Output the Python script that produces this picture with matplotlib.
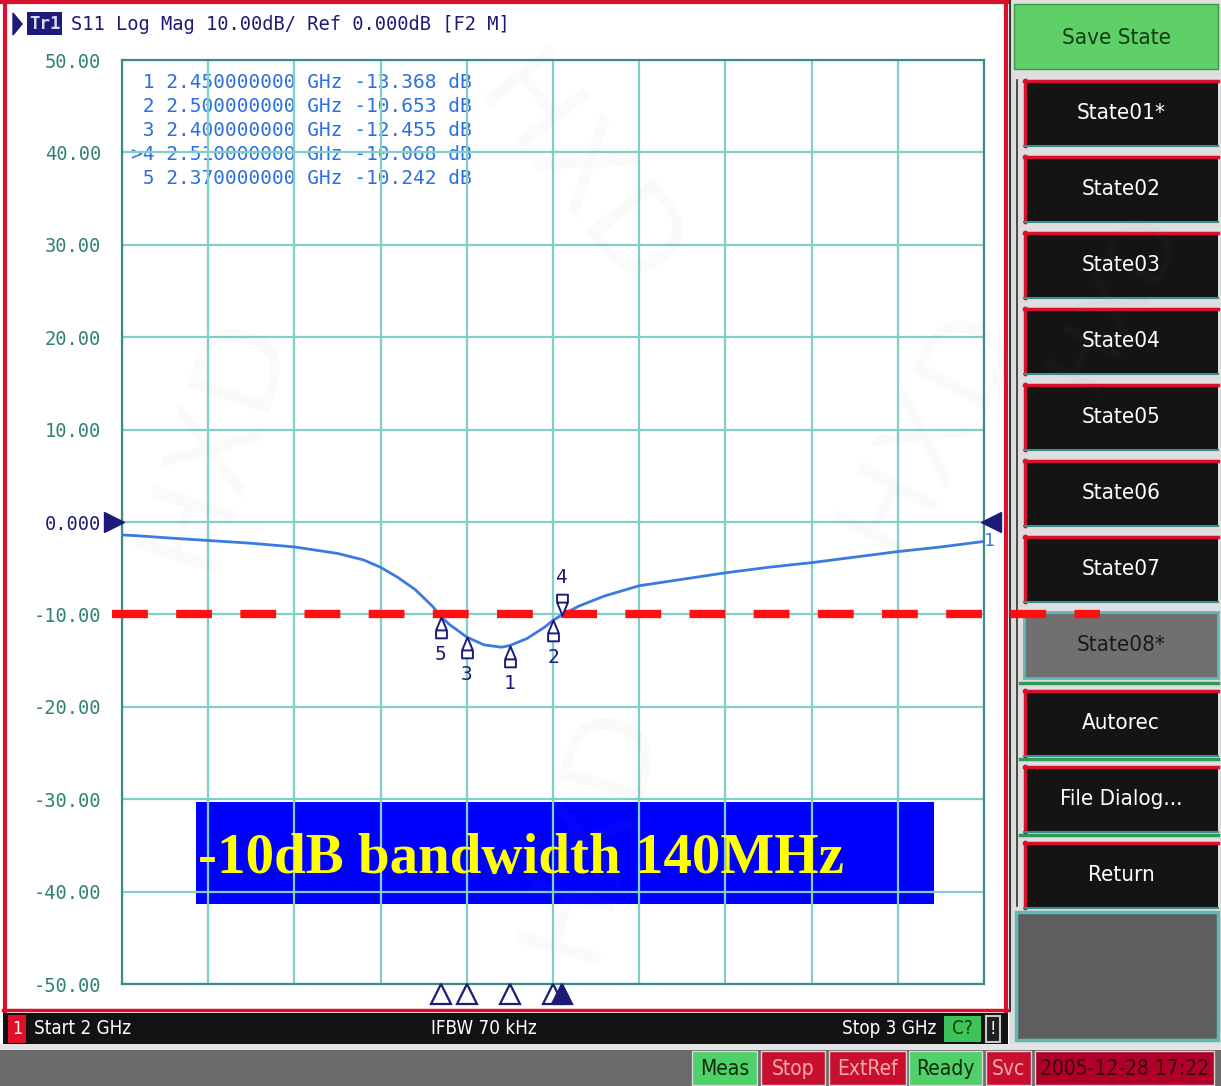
import matplotlib
matplotlib.use("Agg")
import matplotlib.pyplot as plt
import matplotlib.patches as mpatches
import matplotlib.transforms as mtrans
from matplotlib.path import Path

W, H = 1221, 1086

# S11 trace (GHz, dB)
freq_ghz = [2.00, 2.02, 2.05, 2.10, 2.15, 2.20, 2.25, 2.28, 2.30, 2.32, 2.34,
            2.36, 2.37, 2.38, 2.40, 2.42, 2.44, 2.45, 2.47, 2.49, 2.50, 2.51,
            2.53, 2.56, 2.60, 2.65, 2.70, 2.75, 2.80, 2.85, 2.90, 2.95, 3.00]
s11_db = [-1.4, -1.5, -1.7, -2.0, -2.3, -2.7, -3.4, -4.1, -4.9, -6.0, -7.3,
          -9.1, -10.242, -11.1, -12.455, -13.3, -13.55, -13.368, -12.6, -11.4,
          -10.653, -10.068, -9.1, -8.0, -6.9, -6.2, -5.5, -4.9, -4.4, -3.8,
          -3.2, -2.7, -2.1]

# markers
marker_names = ["1", "2", "3", "4", "5"]
marker_freq = [2.45, 2.50, 2.40, 2.51, 2.37]
marker_db = [-13.368, -10.653, -12.455, -10.068, -10.242]
active_marker = "4"

threshold_db = -10
y_ticks = [50, 40, 30, 20, 10, 0, -10, -20, -30, -40, -50]
x_ticks = [2.0, 2.1, 2.2, 2.3, 2.4, 2.5, 2.6, 2.7, 2.8, 2.9, 3.0]

softkeys = ["State01*", "State02", "State03", "State04", "State05", "State06",
            "State07", "State08*", "Autorec", "File Dialog...", "Return"]
status_items = ["Meas", "Stop", "ExtRef", "Ready", "Svc", "2005-12-28 17:22"]

mono = "DejaVu Sans Mono"
narrow = "DejaVu Sans"
navy = "#1c1c78"
teal_txt = "#2f8272"
grid_c = "#80d0c8"
trace_c = "#3b7be0"
red = "#d8102c"

fig = plt.figure(figsize=(W / 100, H / 100), dpi=100)
bg = fig.add_axes([0, 0, 1, 1])
bg.set_xlim(0, W)
bg.set_ylim(H, 0)
bg.axis("off")


def box(x0, y0, x1, y1, fc, ec="none", lw=0, z=1):
    bg.add_patch(mpatches.Rectangle((x0, y0), x1 - x0, y1 - y0, facecolor=fc,
                                    edgecolor=ec, linewidth=lw, zorder=z))


def label(x, y, s, color="white", size=14, ha="left", family=narrow, **kw):
    if family == narrow:
        kw.setdefault("fontstretch", "condensed")
    bg.text(x, y, s, color=color, fontsize=size, ha=ha, va="center",
            family=family, zorder=5, **kw)


# right panel backdrop + main white panel
box(1009, 0, W, 1046, "#dedede")
box(0, 0, 1010, 1012, "white")
bg.plot([5, 5], [0, 1011], color=red, lw=3, zorder=3)
bg.plot([0, 1008], [1.5, 1.5], color=red, lw=3, zorder=3)
bg.plot([1006, 1006], [0, 1011], color=red, lw=3, zorder=3)
bg.plot([1010, 1010], [0, 1011], color="#3a3a3a", lw=1.5, zorder=3)
bg.plot([3, 1008], [1010, 1010], color=red, lw=2.5, zorder=3)

# header
bg.add_patch(mpatches.Polygon([[13, 13], [13, 35], [22, 24]], color=navy, zorder=4))
box(27, 12, 62, 35, navy, z=4)
label(44.5, 24, "Tr1", color="#d8d8f0", size=12.5, ha="center", family=mono,
      fontweight="bold")
label(71, 24, "S11 Log Mag 10.00dB/ Ref 0.000dB [F2 M]", color=navy,
      size=13.5, family=mono)

# bottom channel bar
box(3, 1013, 1008, 1044, "#121212")
box(8, 1015, 26, 1043, "#e0102a", z=2)
label(17, 1029, "1", size=13, ha="center")
label(34, 1029, "Start 2 GHz", size=13.5)
label(484, 1029, "IFBW 70 kHz", size=13.5, ha="center")
label(936, 1029, "Stop 3 GHz", size=13.5, ha="right")
box(944, 1016, 981, 1042, "#3ec35a", z=2)
label(962, 1029, "C?", color="#104010", size=13.5, ha="center")
box(986, 1016, 1000, 1042, "#202020", ec="#c8c8c8", lw=1.5, z=2)
label(993, 1029, "!", size=13, ha="center")

# status bar
box(0, 1044, W, 1050, "#e4e4e4")
box(0, 1050, W, H, "#6a6a6a")
status_x = [(692, 757), (761, 825), (829, 906), (909, 982), (986, 1031), (1035, 1214)]
for name, (x0, x1) in zip(status_items, status_x):
    green = name in ("Meas", "Ready")
    fc = "#4fd068" if green else ("#b0002a" if "-" in name else "#c8102e")
    tc = "#0a2a0a" if green else ("#3a0008" if "-" in name else "#f4a8b0")
    box(x0, 1051, x1, 1085, fc, ec="#d8d8d8", lw=1, z=2)
    label((x0 + x1) / 2, 1069, name, color=tc, size=15, ha="center")

# softkey panel
box(1014, 4, 1218, 69, "#5fcf67", ec="#3a9a45", lw=1, z=2)
label(1116, 38, "Save State", color="#123a16", size=16, ha="center")
bg.plot([1017, 1017], [80, 906], color="#303030", lw=1.2, zorder=2)
key_tops = [80, 156, 232, 308, 384, 460, 536, 612, 690, 766, 842]
for name, y0 in zip(softkeys, key_tops):
    y1 = y0 + 66
    if name == "State08*":
        box(1024, y0, 1218, y1, "#707070", ec="#5fb8b8", lw=2, z=2)
        label(1121, (y0 + y1) / 2, name, color="#1a1a1a", size=16, ha="center")
        continue
    if y0 >= 690:
        bg.plot([1020, 1218], [y0 - 7, y0 - 7], color="#2e9a55", lw=2.5, zorder=2)
    box(1024, y0, 1218, y1, "#141414", z=2)
    bg.plot([1024, 1218], [y0 + 1, y0 + 1], color=red, lw=2.5, zorder=3)
    bg.plot([1025, 1025], [y0, y1], color=red, lw=2.5, zorder=3)
    bg.plot([1024, 1218], [y1, y1], color="#3c8c8c", lw=1.5, zorder=3)
    label(1121, (y0 + y1) / 2, name, size=16, ha="center")
box(1016, 912, 1218, 1040, "#5e5e5e", ec="#60b8b8", lw=2.5, z=2)

# trace plot
ax = fig.add_axes([122 / W, 1 - 984 / H, 862 / W, 924 / H], zorder=2)
ax.set_facecolor("none")
ax.set_xlim(2.0, 3.0)
ax.set_ylim(-50, 50)
ax.set_xticks(x_ticks)
ax.set_yticks(y_ticks)
ax.set_xticklabels([])
ax.set_yticklabels(["0.000" if v == 0 else f"{v:.2f}" for v in y_ticks],
                   family=mono, fontsize=13.5)
for t, v in zip(ax.get_yticklabels(), y_ticks):
    t.set_color(navy if v == 0 else teal_txt)
ax.tick_params(length=0, pad=15)
ax.grid(True, color=grid_c, lw=1.6)
ax.set_axisbelow(True)
for sp in ax.spines.values():
    sp.set_color("#3a8c86")
    sp.set_linewidth(1.6)

ax.plot(freq_ghz, s11_db, color=trace_c, lw=2, zorder=3)

# -10 dB line, runs past the grid
hline_tr = mtrans.blended_transform_factory(ax.transAxes, ax.transData)
ax.plot([-0.0116, 1.1346], [threshold_db, threshold_db], color="#ff1010",
        lw=6, dashes=(4.3, 3.4), transform=hline_tr, clip_on=False, zorder=6,
        solid_capstyle="butt", dash_capstyle="butt")

# marker glyphs (apex sits on the trace)
up_glyph = Path([(0, 0), (-0.26, -0.62), (-0.26, -1), (0.26, -1), (0.26, -0.62),
                 (0, 0), (-0.26, -0.62), (0.26, -0.62)],
                [Path.MOVETO, Path.LINETO, Path.LINETO, Path.LINETO, Path.LINETO,
                 Path.CLOSEPOLY, Path.MOVETO, Path.LINETO])
down_glyph = Path([(x, -y) for x, y in up_glyph.vertices], up_glyph.codes)
for name, f, v in zip(marker_names, marker_freq, marker_db):
    glyph, dy = (down_glyph, 27) if name == active_marker else (up_glyph, -27)
    ax.plot(f, v, marker=glyph, ms=30, mfc="white", mec=navy, mew=1.4,
            ls="none", zorder=7)
    ax.annotate(name, (f, v), xytext=(0, dy), textcoords="offset points",
                ha="center", va="center", color=navy, fontsize=14, family=mono,
                zorder=7)

# marker positions along the bottom edge
edge_tr = mtrans.blended_transform_factory(ax.transData, ax.transAxes)
for name, f in zip(marker_names, marker_freq):
    ax.plot(f, -0.0105, marker="^", ms=14, transform=edge_tr, clip_on=False,
            mfc=navy if name == active_marker else "white", mec=navy, mew=1.6,
            zorder=6)

# reference level arrows
ref_tr = mtrans.blended_transform_factory(ax.transAxes, ax.transData)
ax.plot(-0.009, 0, marker=">", ms=15, color=navy, transform=ref_tr,
        clip_on=False, zorder=6)
ax.plot(1.008, 0, marker="<", ms=15, color=navy, transform=ref_tr,
        clip_on=False, zorder=6)
ax.text(1.0, s11_db[-1], "1", transform=ref_tr, color=trace_c, fontsize=13,
        family=mono, ha="left", va="center", clip_on=False)

# marker readout table
for i, (name, f, v) in enumerate(zip(marker_names, marker_freq, marker_db)):
    tag = ">" + name if name == active_marker else name
    line = f"{tag:>2} {f:.9f} GHz {v:.3f} dB"
    label(131, 82 + 24 * i, line, color="#2b6fe0", size=14, family=mono)

# annotation box
box(196, 802, 934, 904, "#0000ff", z=1)
ax.text(0.088, -36.5, "-10dB bandwidth 140MHz", transform=ref_tr, color="#ffff00",
        fontsize=41, fontweight="bold", family="Liberation Serif",
        ha="left", va="center", zorder=7)

# faint watermarks
top = fig.add_axes([0, 0, 1, 1], zorder=5)
top.set_xlim(0, W)
top.set_ylim(H, 0)
top.axis("off")
for (x, y, r, s) in [(575, 180, -52, 85), (215, 440, 72, 85), (930, 430, 62, 85),
                     (590, 830, 75, 85), (1115, 300, 62, 62)]:
    top.text(x, y, "HXD", fontsize=s, color="#808080", alpha=0.045, rotation=r,
             ha="center", va="center", family="DejaVu Sans")

fig.savefig("out.png", dpi=100)
